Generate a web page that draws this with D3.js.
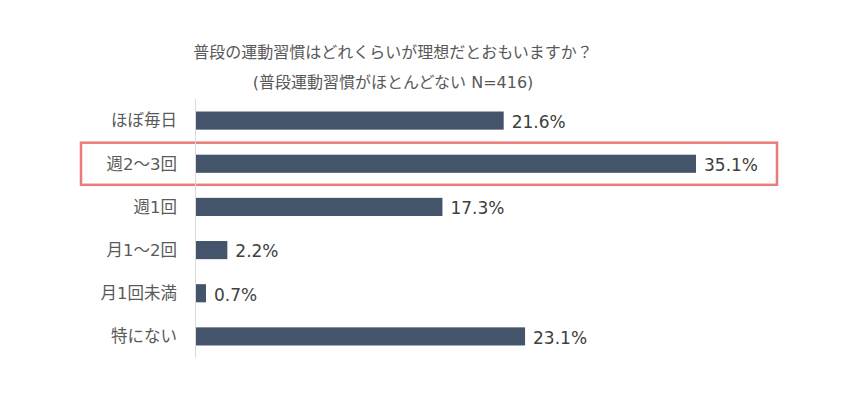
<!doctype html>
<html>
<head>
  <meta charset="utf-8">
  <title>運動習慣</title>
  <script src="https://d3js.org/d3.v7.min.js"></script>
  <style>
    body { margin:0; background:#fff; font-family:"DejaVu Sans", "Noto Sans CJK JP", sans-serif; }
    svg { display:block }
    .title { font-size:16px; fill:#595959 }
    .cat   { font-size:16.5px; fill:#595959 }
    .val   { font-size:17px; fill:#404040 }
  </style>
</head>
<body>
  <svg id="chart" width="850" height="394"></svg>
  <script>
    const categories = ["ほぼ毎日", "週2～3回", "週1回", "月1～2回", "月1回未満", "特にない"];
    const values     = [21.6, 35.1, 17.3, 2.2, 0.7, 23.1];
    const titleLines = ["普段の運動習慣はどれくらいが理想だとおもいますか？", "(普段運動習慣がほとんどない N=416)"];
    const highlight  = "週2～3回";

    const svg = d3.select("#chart");
    const x0 = 196;

    const x = d3.scaleLinear().domain([0, 35.1]).range([x0, 696]);
    const y = d3.scaleBand().domain(categories).range([99, 358]).paddingInner(0.58).paddingOuter(0.29);

    svg.selectAll("text.title")
      .data(titleLines)
      .enter().append("text")
      .attr("class", "title")
      .attr("x", 393)
      .attr("y", (d, i) => 58 + i * 30)
      .attr("text-anchor", "middle")
      .text(d => d);

    // highlight box
    svg.append("rect")
      .attr("x", 81).attr("y", y(highlight) - 12)
      .attr("width", 696).attr("height", y.bandwidth() + 24)
      .attr("fill", "none")
      .attr("stroke", "#ea7b7b")
      .attr("stroke-width", 2.5);

    svg.append("line")
      .attr("x1", x0 - 0.5).attr("x2", x0 - 0.5)
      .attr("y1", 99).attr("y2", 358)
      .attr("stroke", "#d9d9d9");

    svg.selectAll("rect.bar")
      .data(values)
      .enter().append("rect")
      .attr("class", "bar")
      .attr("x", x0)
      .attr("y", (d, i) => y(categories[i]))
      .attr("width", d => x(d) - x0)
      .attr("height", y.bandwidth())
      .attr("fill", "#44546a");

    svg.selectAll("text.cat")
      .data(categories)
      .enter().append("text")
      .attr("class", "cat")
      .attr("x", 177)
      .attr("y", d => y(d) + y.bandwidth() / 2)
      .attr("dy", "0.35em")
      .attr("text-anchor", "end")
      .text(d => d);

    svg.selectAll("text.val")
      .data(values)
      .enter().append("text")
      .attr("class", "val")
      .attr("x", d => x(d) + 8)
      .attr("y", (d, i) => y(categories[i]) + y.bandwidth() / 2 + 1)
      .attr("dy", "0.37em")
      .text(d => d.toFixed(1) + "%");
  </script>
</body>
</html>
